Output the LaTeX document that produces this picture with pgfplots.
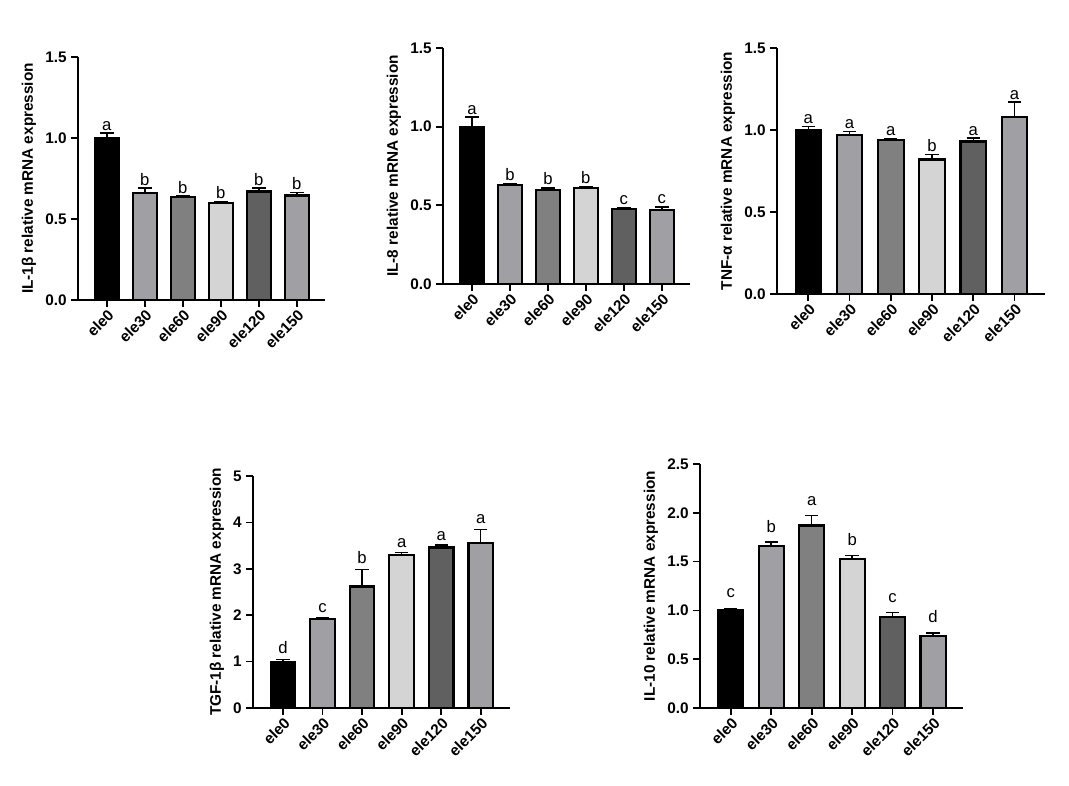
\documentclass[border=0pt]{standalone}
\usepackage{pgfplots}
\pgfplotsset{compat=1.18}
\usepackage{fontspec}
\setmainfont{Liberation Sans}
\definecolor{c1}{HTML}{000000}
\definecolor{c2}{HTML}{A0A0A4}
\definecolor{c3}{HTML}{808080}
\definecolor{c4}{HTML}{D4D4D4}
\definecolor{c5}{HTML}{606060}
\definecolor{c6}{HTML}{A0A0A4}
\newcommand\B[4]{\addplot[ybar, bar width=0.62, bar shift=0pt, fill=#4, draw=black, line width=1.6pt,
  error bars/.cd, y dir=plus, y explicit, error bar style={line width=1.1pt,black}, error mark options={line width=1.1pt,mark size=5pt,rotate=90}] coordinates {(#1,#2) +- (0,#3)};}
\pgfplotsset{panel/.style={scale only axis, axis lines=left, axis line style={line width=1.4pt,-},
  xmin=-0.76, xmax=5.74, ymin=0,
  xtick={0,...,5}, xticklabels={ele0,ele30,ele60,ele90,ele120,ele150},
  x tick label style={rotate=45, anchor=north east, font=\bfseries\fontsize{11.5}{12}\selectfont, inner sep=1pt},
  y tick label style={font=\bfseries\fontsize{11.5}{12}\selectfont},
  ylabel style={font=\bfseries\fontsize{11.5}{12}\selectfont},
  /pgf/number format/assume math mode=true,
  tick style={line width=1.3pt, black}, tick align=outside,
  major tick length=5pt,
  nodes near coords style={font=\fontsize{12.5}{13}\selectfont, anchor=south, inner sep=2pt},
  clip=false}}
\newcommand\Lab[1]{\addplot[only marks, mark=none, nodes near coords, point meta=explicit symbolic] table[meta=l,row sep=\\]{#1};}
\begin{document}
\begin{tikzpicture}
\path (0,0) rectangle ({1069*0.75pt},{785*0.75pt});
% panel 1
\begin{axis}[panel, at={({78*0.75pt},{485*0.75pt})}, anchor=south west, width={247*0.75pt}, height={243*0.75pt},
  ymax=1.5, ytick={0,0.5,1,1.5}, yticklabel style={/pgf/number format/.cd,fixed,fixed zerofill,precision=1},
  ylabel={IL-1β relative mRNA expression}]
\B{0}{1.0}{0.03}{c1}\B{1}{0.66}{0.03}{c2}\B{2}{0.635}{0.006}{c3}\B{3}{0.60}{0.005}{c4}\B{4}{0.67}{0.02}{c5}\B{5}{0.645}{0.02}{c6}
\Lab{x y l\\ 0 1.03 a\\ 1 0.69 b\\ 2 0.641 b\\ 3 0.605 b\\ 4 0.69 b\\ 5 0.665 b\\}
\end{axis}
% panel 2
\begin{axis}[panel, at={({443*0.75pt},{501*0.75pt})}, anchor=south west, width={247*0.75pt}, height={236*0.75pt},
  ymax=1.5, ytick={0,0.5,1,1.5}, yticklabel style={/pgf/number format/.cd,fixed,fixed zerofill,precision=1},
  ylabel={IL-8 relative mRNA expression}]
\B{0}{1.0}{0.06}{c1}\B{1}{0.63}{0.01}{c2}\B{2}{0.60}{0.01}{c3}\B{3}{0.61}{0.01}{c4}\B{4}{0.475}{0.01}{c5}\B{5}{0.47}{0.02}{c6}
\Lab{x y l\\ 0 1.06 a\\ 1 0.64 b\\ 2 0.61 b\\ 3 0.62 b\\ 4 0.485 c\\ 5 0.49 c\\}
\end{axis}
% panel 3
\begin{axis}[panel, at={({777*0.75pt},{491*0.75pt})}, anchor=south west, width={268*0.75pt}, height={246*0.75pt},
  ymax=1.5, ytick={0,0.5,1,1.5}, yticklabel style={/pgf/number format/.cd,fixed,fixed zerofill,precision=1},
  ylabel={TNF-α  relative mRNA expression}]
\B{0}{1.0}{0.02}{c1}\B{1}{0.97}{0.02}{c2}\B{2}{0.94}{0.005}{c3}\B{3}{0.82}{0.03}{c4}\B{4}{0.93}{0.02}{c5}\B{5}{1.08}{0.09}{c6}
\Lab{x y l\\ 0 1.02 a\\ 1 0.99 a\\ 2 0.945 a\\ 3 0.85 b\\ 4 0.95 a\\ 5 1.17 a\\}
\end{axis}
% panel 4
\begin{axis}[panel, at={({253*0.75pt},{77*0.75pt})}, anchor=south west, width={257*0.75pt}, height={232*0.75pt},
  ymax=5, ytick={0,...,5},
  ylabel={TGF-1β relative mRNA expression}]
\B{0}{1.0}{0.04}{c1}\B{1}{1.92}{0.02}{c2}\B{2}{2.62}{0.37}{c3}\B{3}{3.30}{0.05}{c4}\B{4}{3.46}{0.05}{c5}\B{5}{3.55}{0.30}{c6}
\Lab{x y l\\ 0 1.1 d\\ 1 2.0 c\\ 2 3.05 b\\ 3 3.4 a\\ 4 3.55 a\\ 5 3.9 a\\}
\end{axis}
% panel 5
\begin{axis}[panel, at={({700*0.75pt},{77*0.75pt})}, anchor=south west, width={263*0.75pt}, height={244*0.75pt},
  ymax=2.5, ytick={0,0.5,...,2.5}, yticklabel style={/pgf/number format/.cd,fixed,fixed zerofill,precision=1},
  ylabel={IL-10 relative mRNA expression}]
\B{0}{1.0}{0.02}{c1}\B{1}{1.66}{0.04}{c2}\B{2}{1.87}{0.10}{c3}\B{3}{1.53}{0.03}{c4}\B{4}{0.93}{0.05}{c5}\B{5}{0.74}{0.03}{c6}
\Lab{x y l\\ 0 1.1 c\\ 1 1.77 b\\ 2 2.04 a\\ 3 1.63 b\\ 4 1.05 c\\ 5 0.84 d\\}
\end{axis}
\end{tikzpicture}
\end{document}
